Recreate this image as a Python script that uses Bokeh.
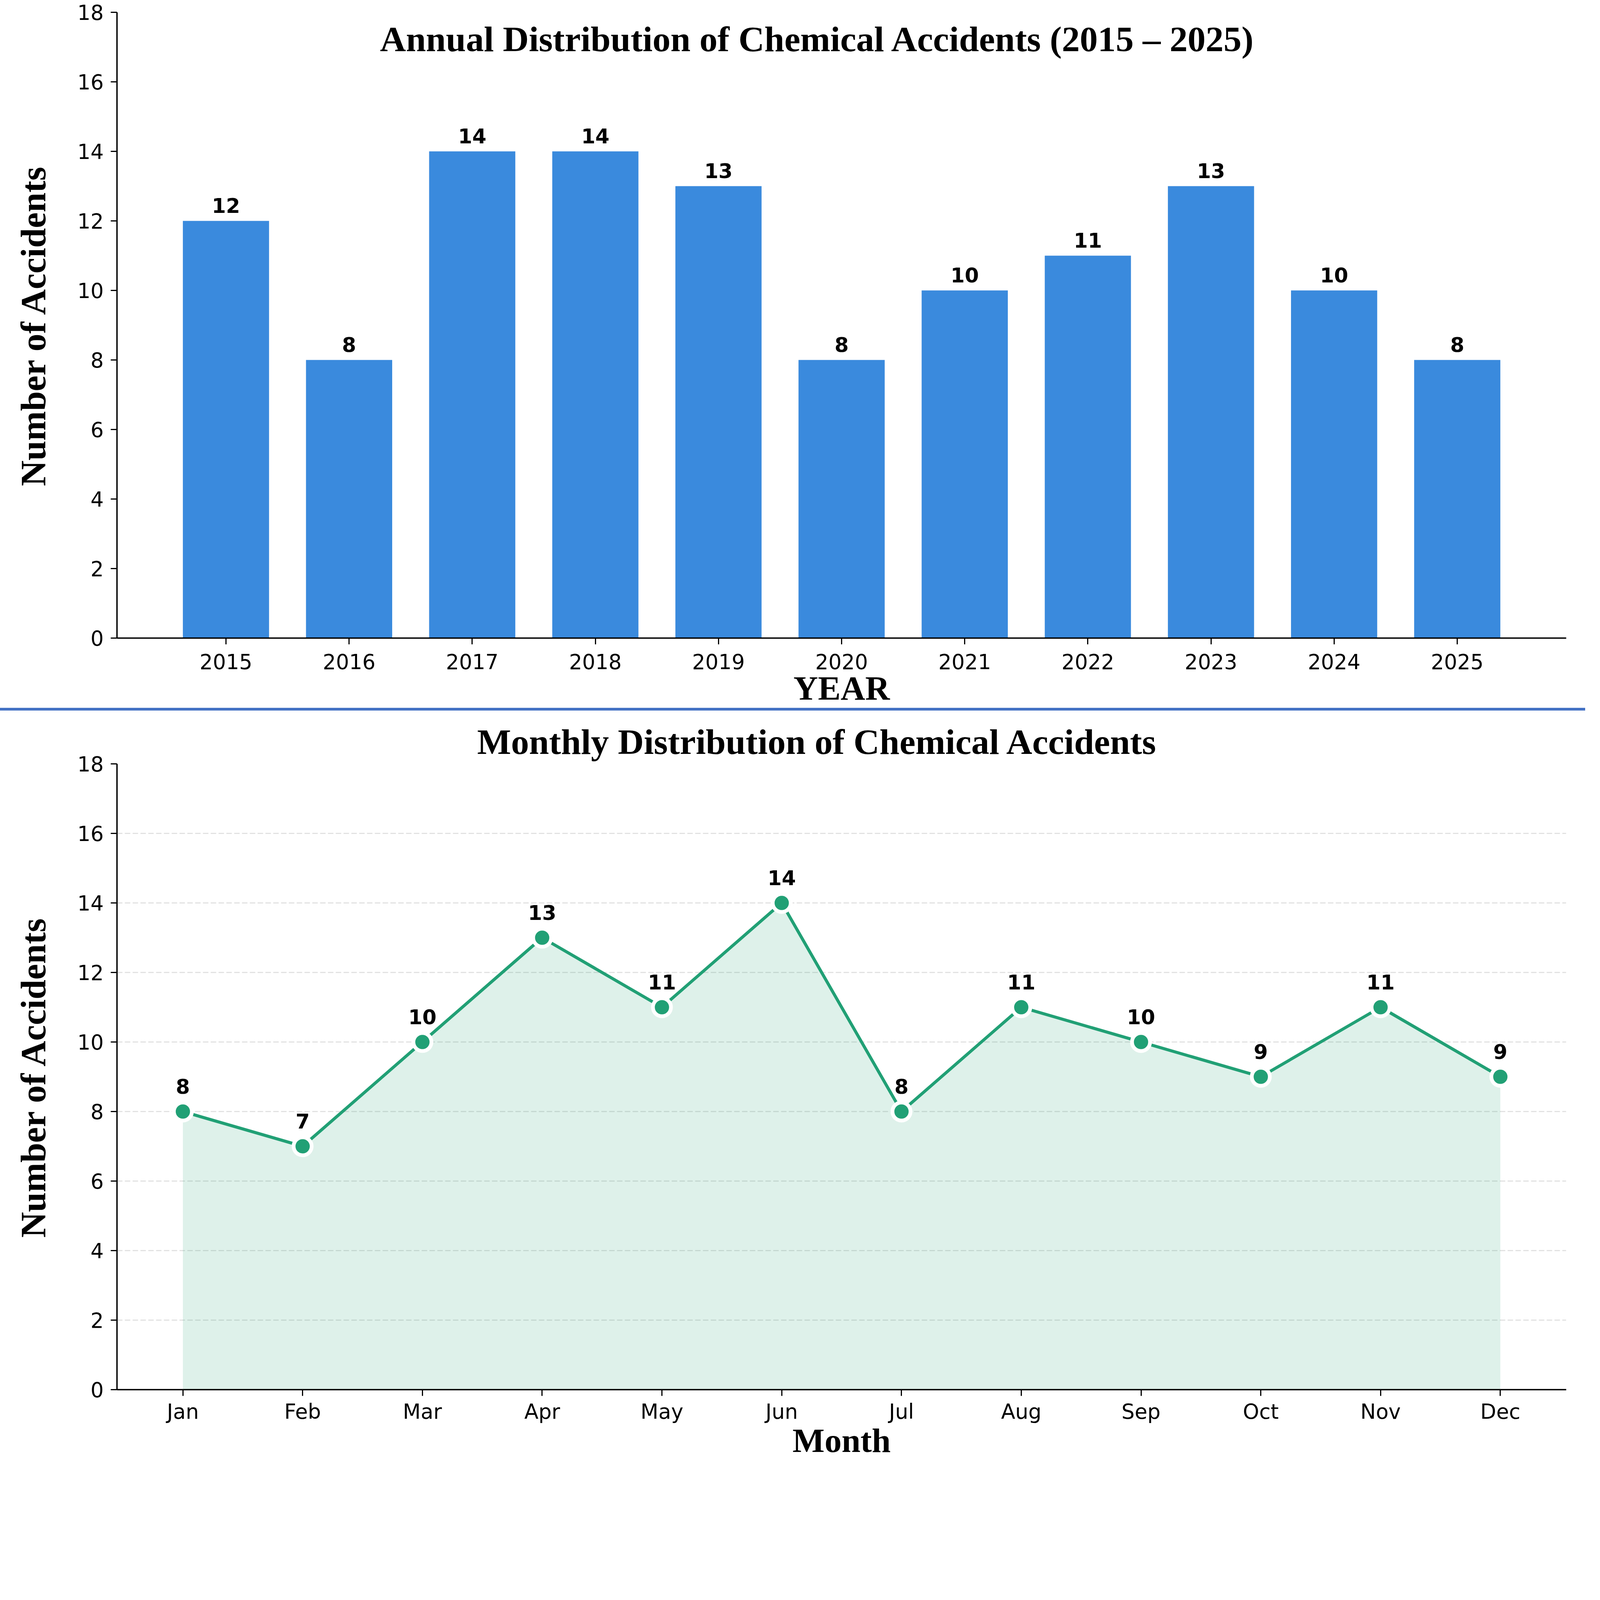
from bokeh.plotting import figure
from bokeh.models import FixedTicker, Label, Div
from bokeh.layouts import column
from bokeh.core.properties import value
from bokeh.embed import file_html
from bokeh.resources import INLINE

# ---------------- data ----------------
years = [2015, 2016, 2017, 2018, 2019, 2020, 2021, 2022, 2023, 2024, 2025]
annual_counts = [12, 8, 14, 14, 13, 8, 10, 11, 13, 10, 8]

months = ["Jan", "Feb", "Mar", "Apr", "May", "Jun",
          "Jul", "Aug", "Sep", "Oct", "Nov", "Dec"]
monthly_counts = [8, 7, 10, 13, 11, 14, 8, 11, 10, 9, 11, 9]

y_ticks = [0, 2, 4, 6, 8, 10, 12, 14, 16, 18]

top_title = "Annual Distribution of Chemical Accidents (2015 \u2013 2025)"
bottom_title = "Monthly Distribution of Chemical Accidents"

# ---------------- style ----------------
K = 0.6  # overall scale of the page


def px(v):
    return int(round(v * K))


def fs(v):
    return f"{px(v)}px"


BAR_COLOR = "#3a8add"
GREEN = "#21a075"
SEP_COLOR = "#4472C4"
W = px(6764)
FRAME_W = px(6183)
FRAME_H = px(2670)
TICK_FONT = "DejaVu Sans"
SERIF = "Liberation Serif"


def style_axes(p, tick_standoff, xlabel_standoff):
    for ax in (p.xaxis[0], p.yaxis[0]):
        ax.major_label_text_font = TICK_FONT
        ax.major_label_text_font_size = fs(88)
        ax.major_label_text_color = "black"
        ax.axis_line_width = 6 * K
        ax.axis_line_color = "black"
        ax.major_tick_line_width = 5 * K
        ax.major_tick_line_color = "black"
        ax.major_tick_out = px(27)
        ax.major_tick_in = 0
        ax.minor_tick_line_color = None
        ax.axis_label_text_font = SERIF
        ax.axis_label_text_font_style = "bold"
        ax.axis_label_text_color = "black"
    p.xaxis[0].major_label_standoff = tick_standoff
    p.xaxis[0].axis_label_standoff = xlabel_standoff
    p.xaxis[0].axis_label_text_font_size = fs(145)
    p.yaxis[0].major_label_standoff = px(30)
    p.yaxis[0].axis_label_standoff = px(99)
    p.yaxis[0].axis_label_text_font_size = fs(152)
    p.yaxis[0].ticker = FixedTicker(ticks=y_ticks)
    p.outline_line_color = None
    p.xgrid.visible = False


# ---------------- top: annual bars ----------------
p1 = figure(frame_width=FRAME_W, frame_height=FRAME_H,
            x_range=(2014.115, 2025.885), y_range=(0, 18),
            output_backend="svg", toolbar_location=None,
            min_border_left=px(499), min_border_right=px(82),
            min_border_top=px(51), min_border_bottom=px(285))
p1.vbar(x=years, top=annual_counts, width=0.7, fill_color=BAR_COLOR, line_color=None)
p1.text(x=years, y=annual_counts, text=[str(v) for v in annual_counts],
        text_align="center", text_baseline="alphabetic", y_offset=-px(67),
        text_font=value(TICK_FONT), text_font_size=value(fs(86)),
        text_font_style="bold", text_color="black")
style_axes(p1, px(40), px(-5))
p1.ygrid.visible = False
p1.xaxis[0].ticker = FixedTicker(ticks=years)
p1.xaxis[0].axis_label = "YEAR"
p1.yaxis[0].axis_label = "Number of Accidents"
p1.add_layout(Label(x=2019.806, y=17.23, text=top_title, text_align="center",
                    text_baseline="alphabetic", text_font=SERIF,
                    text_font_size=fs(154), text_font_style="bold",
                    text_color="black"))

# ---------------- separator ----------------
SEP_H = px(12)
sep = Div(text="", width=W, height=SEP_H, margin=(0, 0, 0, 0),
          styles={"background-color": SEP_COLOR})

# ---------------- bottom: monthly line ----------------
xs = list(range(len(months)))
p2 = figure(frame_width=FRAME_W, frame_height=FRAME_H,
            x_range=(-0.55, 11.55), y_range=(0, 18),
            output_backend="svg", toolbar_location=None,
            min_border_left=px(499), min_border_right=px(82),
            min_border_top=px(227), min_border_bottom=px(285))
p2.varea(x=xs, y1=[0] * len(xs), y2=monthly_counts, fill_color=GREEN, fill_alpha=0.15)
p2.line(x=xs, y=monthly_counts, line_color=GREEN, line_width=13 * K)
p2.scatter(x=xs, y=monthly_counts, size=77 * K, fill_color=GREEN,
           line_color="white", line_width=16 * K)
p2.text(x=xs, y=monthly_counts, text=[str(v) for v in monthly_counts],
        text_align="center", text_baseline="alphabetic", y_offset=-px(108),
        text_font=value(TICK_FONT), text_font_size=value(fs(86)),
        text_font_style="bold", text_color="black")
style_axes(p2, px(15), px(-13))
p2.ygrid.ticker = FixedTicker(ticks=y_ticks)
p2.ygrid.grid_line_color = "#e2e2e2"
p2.ygrid.grid_line_width = 5 * K
p2.ygrid.grid_line_dash = f"{px(23)} {px(10)}"
p2.xaxis[0].ticker = FixedTicker(ticks=xs)
p2.xaxis[0].major_label_overrides = {i: m for i, m in zip(xs, months)}
p2.xaxis[0].axis_label = "Month"
p2.yaxis[0].axis_label = "Number of Accidents"
p2.title.text = bottom_title
p2.title.align = "left"
p2.title.offset = px(1536)
p2.title.standoff = px(18)
p2.title.text_font = SERIF
p2.title.text_font_size = fs(154)
p2.title.text_font_style = "bold"
p2.title.text_color = "black"

layout = column(p1, sep, p2, spacing=0)
open("out.html", "w").write(file_html(layout, INLINE))
